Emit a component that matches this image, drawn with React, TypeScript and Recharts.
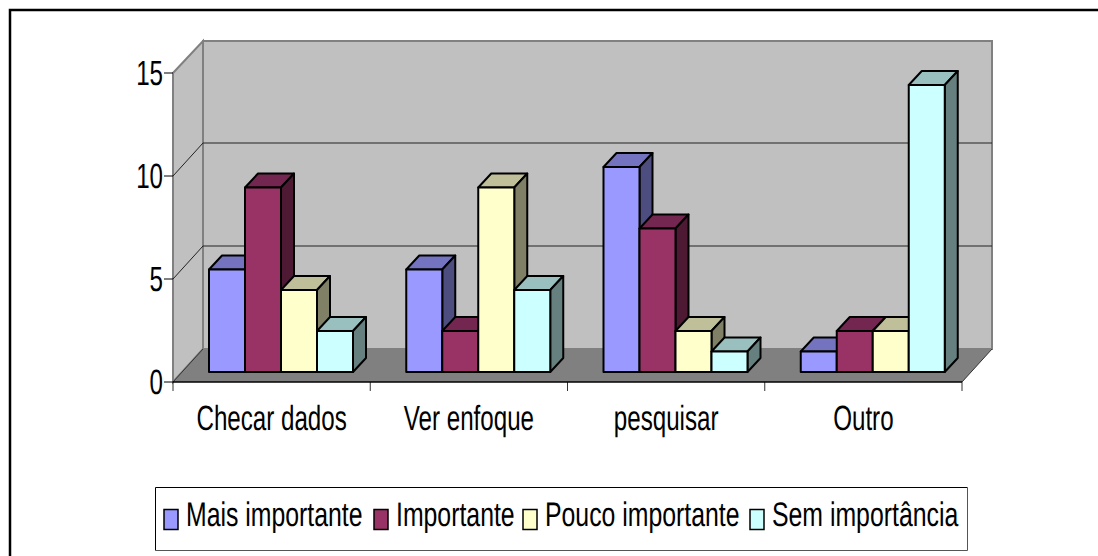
import { Bar, BarChart, CartesianGrid, Customized, Legend, XAxis, YAxis } from 'recharts'

const categories = ['Checar dados', 'Ver enfoque', 'pesquisar', 'Outro']
const seriesNames = ['Mais importante', 'Importante', 'Pouco importante', 'Sem importância']
const maisImportante = [5, 5, 10, 1]
const importante = [9, 2, 7, 2]
const poucoImportante = [4, 9, 2, 2]
const semImportancia = [2, 4, 1, 14]
const yTicks = [0, 5, 10, 15]

const COLORS = ['#9999FF', '#993366', '#FFFFCC', '#CCFFFF']
const TOPS = ['#7373BF', '#732650', '#BFBF99', '#99BFBF']
const SIDES = ['#4D4D80', '#4D1933', '#808066', '#668080']

const data = categories.map((name, i) => ({
  name,
  a: maisImportante[i],
  b: importante[i],
  c: poucoImportante[i],
  d: semImportancia[i],
}))
const keys = ['a', 'b', 'c', 'd']

// layout of the fake 3d box
const LEFT = 173
const RIGHT = 962
const TOP = 73
const BOTTOM = 382
const DEPTH_X = 30
const DEPTH_Y = 33
const FONT = '"Liberation Sans", Arial, sans-serif'
const AXIS_SQUEEZE = 0.69
const LEGEND_SQUEEZE = 0.73

const Bar3D = (props: any) => {
  const { x, width } = props
  const s = props.seriesIndex
  const dx = 9.5
  const dy = -10
  const bx = 13
  const by = -14
  // bars in the picture come out a hair shorter than the axis scale
  const height = props.height * 0.995
  const left = x + dx
  const right = x + dx + width
  const bottom = props.y + props.height + dy
  const top = bottom - height
  return (
    <g stroke="#000" strokeWidth={2} strokeLinejoin="round">
      <polygon points={`${left},${top} ${left + bx},${top + by} ${right + bx},${top + by} ${right},${top}`} fill={TOPS[s]} />
      <polygon points={`${right},${top} ${right + bx},${top + by} ${right + bx},${bottom + by} ${right},${bottom}`} fill={SIDES[s]} />
      <rect x={left} y={top} width={width} height={height} fill={COLORS[s]} />
    </g>
  )
}

const Frame = () => {
  const band = (RIGHT - LEFT) / categories.length
  return (
    <g>
      <rect x={0} y={0} width={1098} height={556} fill="#fff" />
      <path d="M10 556 V10 H1098" fill="none" stroke="#000" strokeWidth={2.5} />
      <polygon points={`${LEFT},${BOTTOM} ${LEFT + DEPTH_X},${BOTTOM - DEPTH_Y} ${LEFT + DEPTH_X},${TOP - DEPTH_Y + 1} ${LEFT},${TOP}`} fill="#C0C0C0" stroke="#808080" strokeWidth={2} />
      <rect x={LEFT + DEPTH_X} y={TOP - DEPTH_Y + 1} width={RIGHT - LEFT} height={BOTTOM - TOP - 1} fill="#C0C0C0" stroke="#808080" strokeWidth={2} />
      <polygon points={`${LEFT},${BOTTOM} ${LEFT + DEPTH_X},${BOTTOM - DEPTH_Y} ${RIGHT + DEPTH_X},${BOTTOM - DEPTH_Y} ${RIGHT},${BOTTOM}`} fill="#808080" />
      <path d={`M${LEFT} ${BOTTOM} L${LEFT + DEPTH_X} ${BOTTOM - DEPTH_Y} M${RIGHT} ${BOTTOM} L${RIGHT + DEPTH_X} ${BOTTOM - DEPTH_Y}`} stroke="#333" fill="none" />
      {categories.concat('').map((_, i) => (
        <line key={i} x1={LEFT + band * i} x2={LEFT + band * i} y1={BOTTOM} y2={BOTTOM + 9} stroke="#333" />
      ))}
    </g>
  )
}

const depthGridLine = (props: any) => {
  const { x1, x2, y1 } = props
  if (y1 <= TOP + 1 || y1 >= BOTTOM - 1) return <g key={props.key ?? y1} />
  return (
    <path
      key={props.key ?? y1}
      d={`M${x1} ${y1} L${x1 + DEPTH_X} ${y1 - DEPTH_Y} H${x2 + DEPTH_X}`}
      fill="none"
      stroke="#222"
      strokeWidth={1}
    />
  )
}

const XTick = (props: any) => (
  <text
    transform={`translate(${props.x},${props.y}) scale(${AXIS_SQUEEZE},1)`}
    textAnchor="middle"
    fontFamily={FONT}
    fontSize={35}
    textRendering="geometricPrecision"
    fill="#000"
  >
    {props.payload.value}
  </text>
)

const YTick = (props: any) => (
  <text
    transform={`translate(${props.x + 1},${props.y + 12}) scale(${AXIS_SQUEEZE},1)`}
    textAnchor="end"
    fontFamily={FONT}
    fontSize={35}
    textRendering="geometricPrecision"
    fill="#000"
  >
    {props.payload.value}
  </text>
)

const legendX = [164, 374, 523, 750]

const LegendBox = () => (
  <svg width={813} height={64} style={{ display: 'block' }}>
    <path d="M0.5 63.5 V0.5 H812.5" fill="none" stroke="#000" />
    <path d="M812.5 0.5 V63.5 H0.5" fill="none" stroke="#555" />
    {seriesNames.map((name, i) => (
      <g key={name}>
        <rect x={legendX[i] - 155} y={22.5} width={14} height={20} fill={COLORS[i]} stroke="#000" strokeWidth={1.5} />
        <text
          transform={`translate(${legendX[i] - 155 + 22},39) scale(${LEGEND_SQUEEZE},1)`}
          fontFamily={FONT}
          fontSize={34}
          textRendering="geometricPrecision"
          fill="#000"
        >
          {name}
        </text>
      </g>
    ))}
  </svg>
)

export default function App() {
  return (
    <div style={{ position: 'absolute', left: 0, top: 0 }}>
      <BarChart
        width={1098}
        height={556}
        data={data}
        margin={{ top: TOP, right: 1098 - RIGHT, left: LEFT - 60, bottom: 556 - BOTTOM - 64 - 30 }}
        barCategoryGap={26.5}
        barGap={0}
      >
        <Customized component={<Frame />} />
        <CartesianGrid vertical={false} horizontal={depthGridLine} zIndex={100} />
        <XAxis
          dataKey="name"
          axisLine={{ stroke: '#000', strokeWidth: 1.5 }}
          tickLine={false}
          tick={<XTick />}
          tickMargin={42}
          interval={0}
        />
        <YAxis
          width={60}
          domain={[0, 15]}
          ticks={yTicks}
          axisLine={false}
          tickLine={{ stroke: '#000' }}
          tickSize={9}
          tick={<YTick />}
          interval={0}
        />
        <Legend
          content={<LegendBox />}
          wrapperStyle={{ left: 155, top: 487, bottom: 'auto', width: 813, height: 64 }}
        />
        {keys.map((k, s) => (
          <Bar
            key={k}
            dataKey={k}
            name={seriesNames[s]}
            isAnimationActive={false}
            shape={(p: any) => <Bar3D {...p} seriesIndex={s} />}
          />
        ))}
      </BarChart>
    </div>
  )
}
